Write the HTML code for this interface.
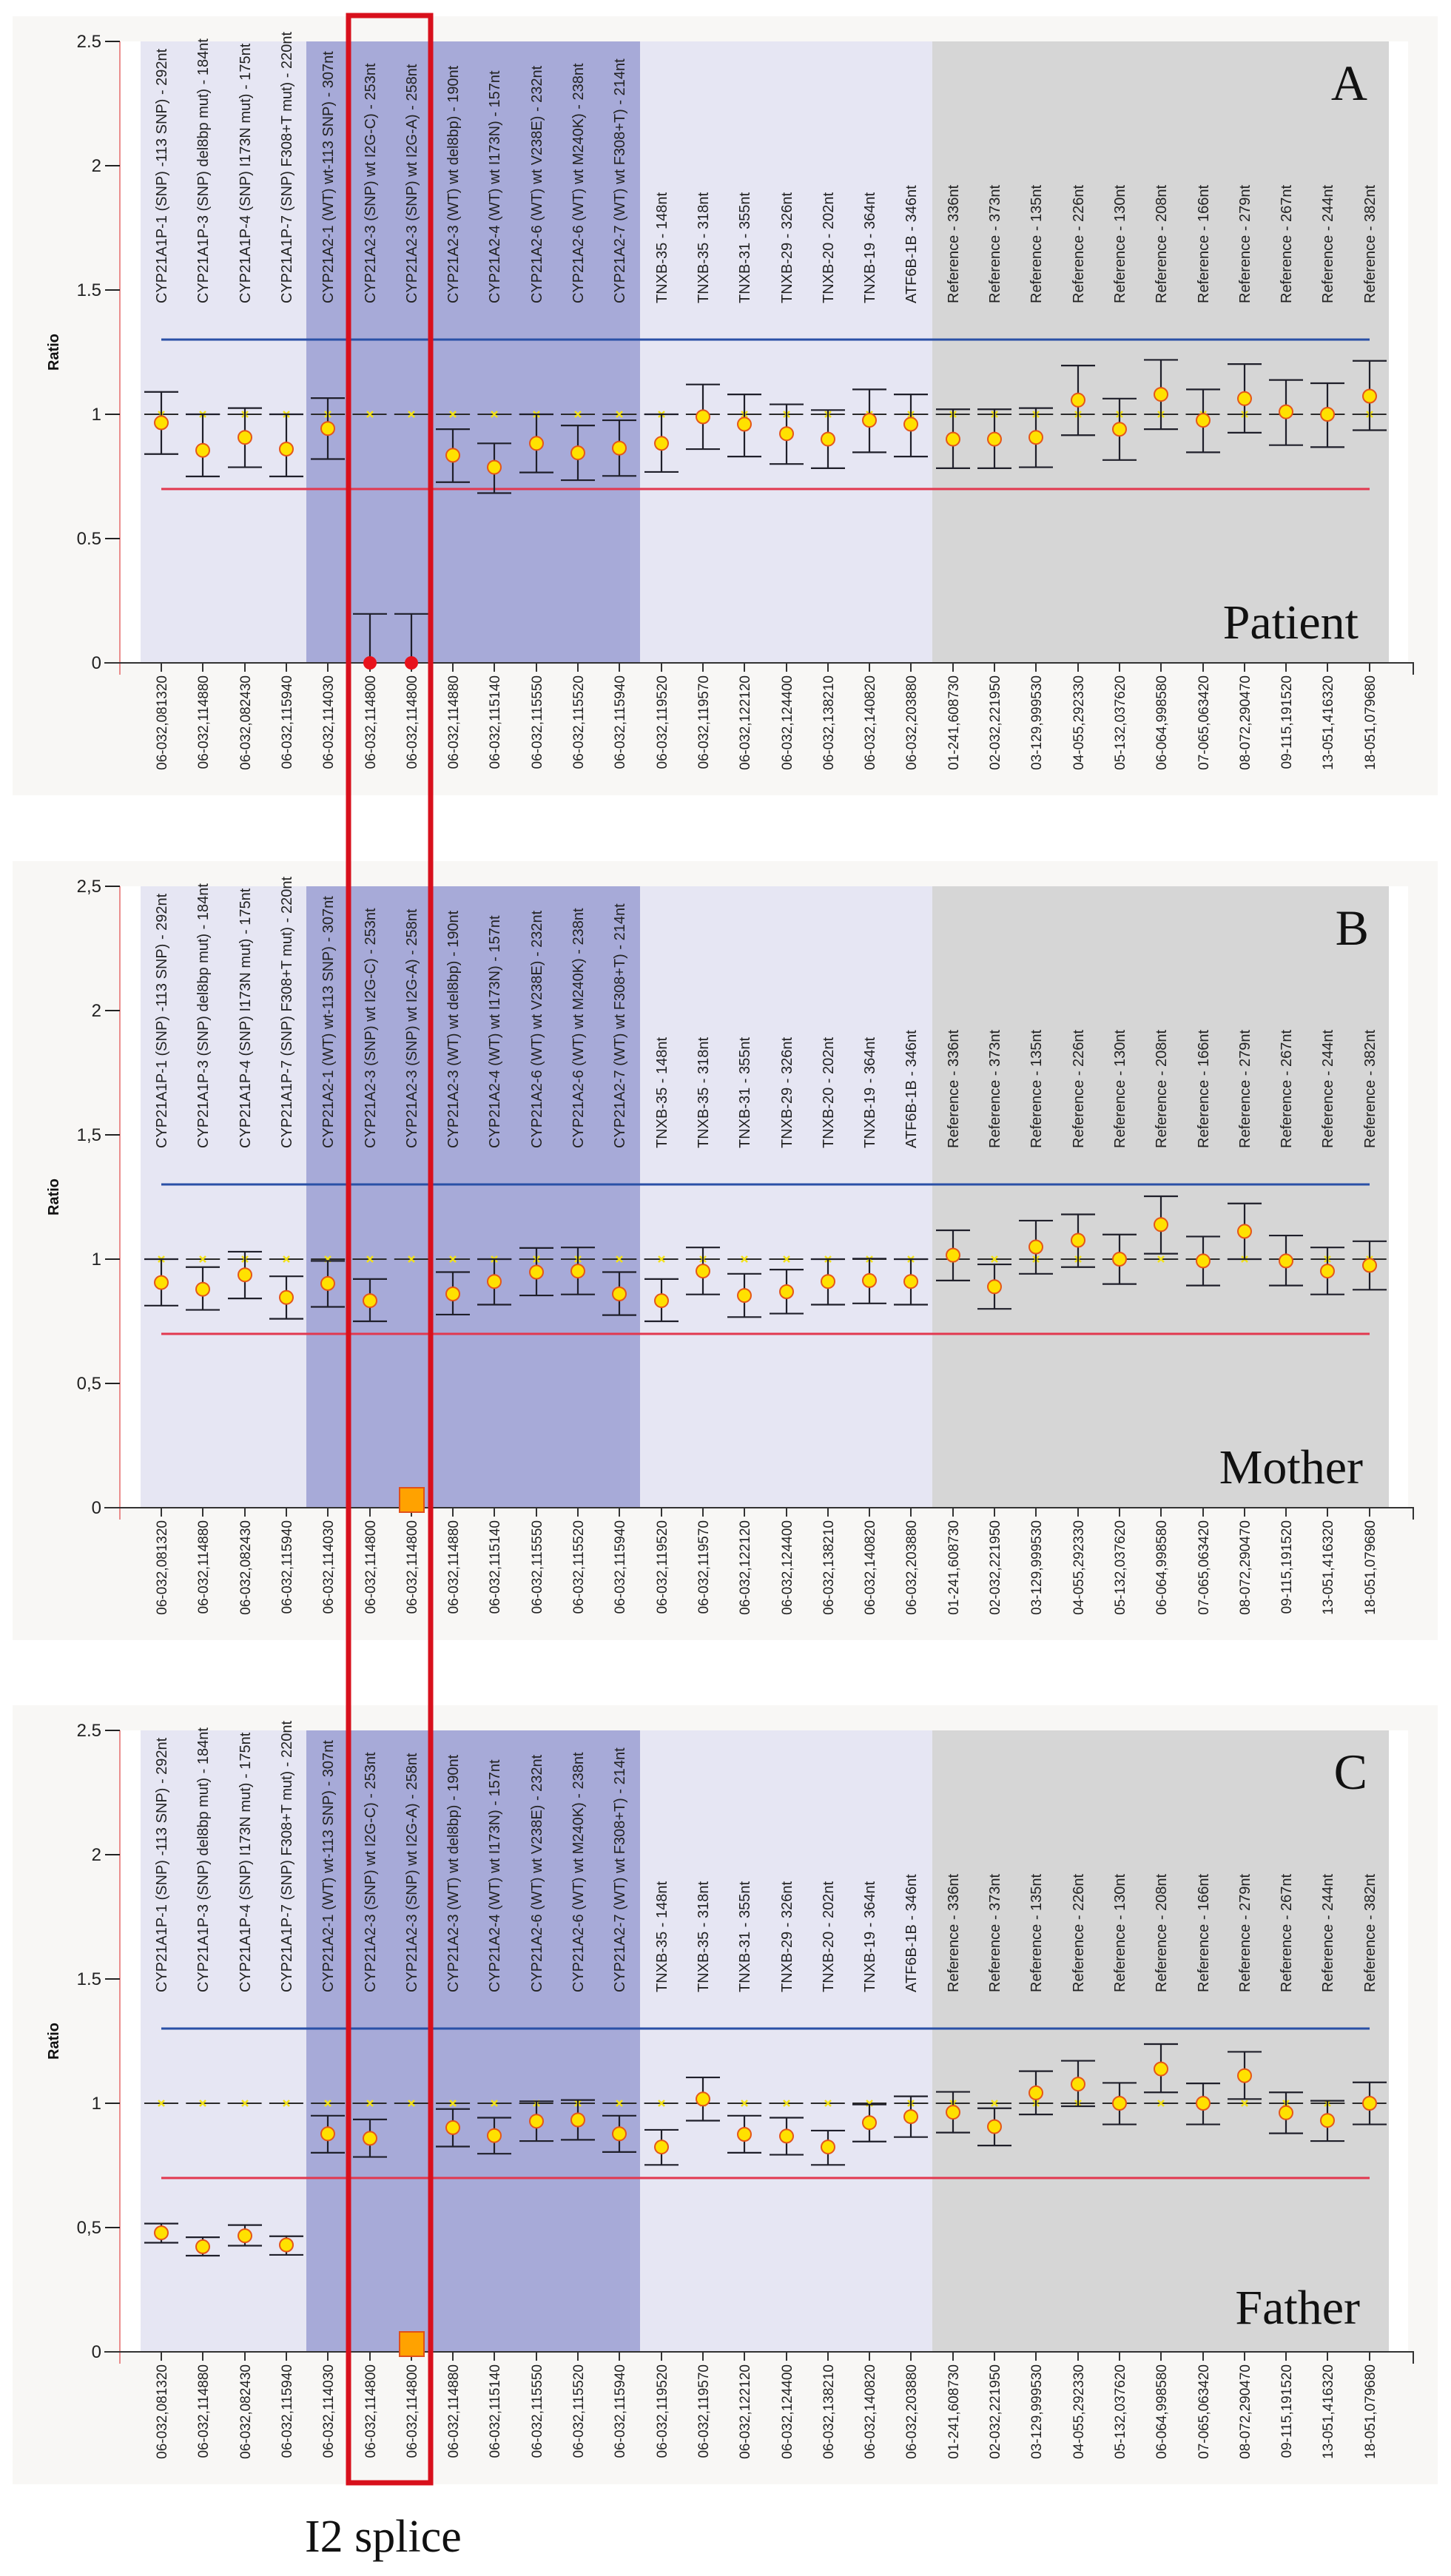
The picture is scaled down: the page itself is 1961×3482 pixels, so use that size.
<!DOCTYPE html>
<html><head><meta charset="utf-8"><style>
html,body{margin:0;padding:0;background:#fff;width:1961px;height:3482px;overflow:hidden}
svg{display:block}
text{font-family:"Liberation Sans",Arial,sans-serif}
.cl{font-size:20px;fill:#222}
.xl{font-size:19px;fill:#222;text-anchor:end}
.yl{font-size:24px;fill:#222;text-anchor:end}
text.big{font-family:"Liberation Serif",serif;font-size:68px;fill:#111;text-anchor:end}
text.ser{font-family:"Liberation Serif",serif}
.bar{fill:none;stroke:#1f1f2a;stroke-width:2.2;vector-effect:non-scaling-stroke}
.mk circle{fill:#ffe100;stroke:#e4561a;stroke-width:2}
</style></head><body>
<svg width="1961" height="3482" viewBox="0 0 1961 3482" xmlns="http://www.w3.org/2000/svg">
<defs>
<g id="base">
<rect x="17" y="22" width="1926" height="1053" fill="#f8f7f5"/>
<rect x="162" y="56" width="1741" height="840" fill="#fff"/>
<rect x="190" y="56" width="224" height="840" fill="#e6e6f3"/>
<rect x="414" y="56" width="451" height="840" fill="#a7aad8"/>
<rect x="865" y="56" width="395" height="840" fill="#e6e6f3"/>
<rect x="1260" y="56" width="617" height="840" fill="#d6d6d6"/>
<line x1="218" y1="459" x2="1851" y2="459" stroke="#2a50a6" stroke-width="3"/>
<line x1="218" y1="661" x2="1851" y2="661" stroke="#e2384f" stroke-width="3"/>
<line x1="195" y1="560" x2="1882" y2="560" stroke="#2a2a2a" stroke-width="2" stroke-dasharray="46 10.3"/>
<path d="M214 556l8 8m0-8l-8 8M270 556l8 8m0-8l-8 8M327 556l8 8m0-8l-8 8M383 556l8 8m0-8l-8 8M439 556l8 8m0-8l-8 8M496 556l8 8m0-8l-8 8M552 556l8 8m0-8l-8 8M608 556l8 8m0-8l-8 8M664 556l8 8m0-8l-8 8M721 556l8 8m0-8l-8 8M777 556l8 8m0-8l-8 8M833 556l8 8m0-8l-8 8M890 556l8 8m0-8l-8 8M946 556l8 8m0-8l-8 8M1002 556l8 8m0-8l-8 8M1059 556l8 8m0-8l-8 8M1115 556l8 8m0-8l-8 8M1171 556l8 8m0-8l-8 8M1227 556l8 8m0-8l-8 8M1284 556l8 8m0-8l-8 8M1340 556l8 8m0-8l-8 8M1396 556l8 8m0-8l-8 8M1453 556l8 8m0-8l-8 8M1509 556l8 8m0-8l-8 8M1565 556l8 8m0-8l-8 8M1622 556l8 8m0-8l-8 8M1678 556l8 8m0-8l-8 8M1734 556l8 8m0-8l-8 8M1790 556l8 8m0-8l-8 8M1847 556l8 8m0-8l-8 8" stroke="#f2e21a" stroke-width="2.5" fill="none"/>
<line x1="162" y1="56" x2="162" y2="912" stroke="#e04545" stroke-width="1.2"/>
<path d="M142 56h20M142 224h20M142 392h20M142 560h20M142 728h20M142 896h20" stroke="#222" stroke-width="2"/>
<line x1="141" y1="896" x2="1911" y2="896" stroke="#333" stroke-width="2"/>
<path d="M218 896v12M274 896v12M331 896v12M387 896v12M443 896v12M500 896v12M556 896v12M612 896v12M668 896v12M725 896v12M781 896v12M837 896v12M894 896v12M950 896v12M1006 896v12M1063 896v12M1119 896v12M1175 896v12M1231 896v12M1288 896v12M1344 896v12M1400 896v12M1457 896v12M1513 896v12M1569 896v12M1626 896v12M1682 896v12M1738 896v12M1794 896v12M1851 896v12M1910 896v16" stroke="#333" stroke-width="2"/>
</g>
</defs>

<!-- PANEL A -->
<g>
<use href="#base"/>
<g class="yls"><text class="yl" x="137" y="64">2.5</text><text class="yl" x="137" y="232">2</text><text class="yl" x="137" y="400">1.5</text><text class="yl" x="137" y="568">1</text><text class="yl" x="137" y="736">0.5</text><text class="yl" x="137" y="904">0</text></g>
<text transform="translate(79,476) rotate(-90)" text-anchor="middle" font-size="20" font-weight="bold" fill="#111">Ratio</text>
<g class="cl">
<text transform="translate(225,410) rotate(-90)">CYP21A1P-1 (SNP) -113 SNP) - 292nt</text>
<text transform="translate(281,410) rotate(-90)">CYP21A1P-3 (SNP) del8bp mut) - 184nt</text>
<text transform="translate(338,410) rotate(-90)">CYP21A1P-4 (SNP) I173N mut) - 175nt</text>
<text transform="translate(394,410) rotate(-90)">CYP21A1P-7 (SNP) F308+T mut) - 220nt</text>
<text transform="translate(450,410) rotate(-90)">CYP21A2-1 (WT) wt-113 SNP) - 307nt</text>
<text transform="translate(507,410) rotate(-90)">CYP21A2-3 (SNP) wt I2G-C) - 253nt</text>
<text transform="translate(563,410) rotate(-90)">CYP21A2-3 (SNP) wt I2G-A) - 258nt</text>
<text transform="translate(619,410) rotate(-90)">CYP21A2-3 (WT) wt del8bp) - 190nt</text>
<text transform="translate(675,410) rotate(-90)">CYP21A2-4 (WT) wt I173N) - 157nt</text>
<text transform="translate(732,410) rotate(-90)">CYP21A2-6 (WT) wt V238E) - 232nt</text>
<text transform="translate(788,410) rotate(-90)">CYP21A2-6 (WT) wt M240K) - 238nt</text>
<text transform="translate(844,410) rotate(-90)">CYP21A2-7 (WT) wt F308+T) - 214nt</text>
<text transform="translate(901,410) rotate(-90)">TNXB-35 - 148nt</text>
<text transform="translate(957,410) rotate(-90)">TNXB-35 - 318nt</text>
<text transform="translate(1013,410) rotate(-90)">TNXB-31 - 355nt</text>
<text transform="translate(1070,410) rotate(-90)">TNXB-29 - 326nt</text>
<text transform="translate(1126,410) rotate(-90)">TNXB-20 - 202nt</text>
<text transform="translate(1182,410) rotate(-90)">TNXB-19 - 364nt</text>
<text transform="translate(1238,410) rotate(-90)">ATF6B-1B - 346nt</text>
<text transform="translate(1295,410) rotate(-90)">Reference - 336nt</text>
<text transform="translate(1351,410) rotate(-90)">Reference - 373nt</text>
<text transform="translate(1407,410) rotate(-90)">Reference - 135nt</text>
<text transform="translate(1464,410) rotate(-90)">Reference - 226nt</text>
<text transform="translate(1520,410) rotate(-90)">Reference - 130nt</text>
<text transform="translate(1576,410) rotate(-90)">Reference - 208nt</text>
<text transform="translate(1633,410) rotate(-90)">Reference - 166nt</text>
<text transform="translate(1689,410) rotate(-90)">Reference - 279nt</text>
<text transform="translate(1745,410) rotate(-90)">Reference - 267nt</text>
<text transform="translate(1801,410) rotate(-90)">Reference - 244nt</text>
<text transform="translate(1858,410) rotate(-90)">Reference - 382nt</text>
</g>
<g>
<text class="xl" transform="translate(225,913) rotate(-90)">06-032,081320</text>
<text class="xl" transform="translate(281,913) rotate(-90)">06-032,114880</text>
<text class="xl" transform="translate(338,913) rotate(-90)">06-032,082430</text>
<text class="xl" transform="translate(394,913) rotate(-90)">06-032,115940</text>
<text class="xl" transform="translate(450,913) rotate(-90)">06-032,114030</text>
<text class="xl" transform="translate(507,913) rotate(-90)">06-032,114800</text>
<text class="xl" transform="translate(563,913) rotate(-90)">06-032,114800</text>
<text class="xl" transform="translate(619,913) rotate(-90)">06-032,114880</text>
<text class="xl" transform="translate(675,913) rotate(-90)">06-032,115140</text>
<text class="xl" transform="translate(732,913) rotate(-90)">06-032,115550</text>
<text class="xl" transform="translate(788,913) rotate(-90)">06-032,115520</text>
<text class="xl" transform="translate(844,913) rotate(-90)">06-032,115940</text>
<text class="xl" transform="translate(901,913) rotate(-90)">06-032,119520</text>
<text class="xl" transform="translate(957,913) rotate(-90)">06-032,119570</text>
<text class="xl" transform="translate(1013,913) rotate(-90)">06-032,122120</text>
<text class="xl" transform="translate(1070,913) rotate(-90)">06-032,124400</text>
<text class="xl" transform="translate(1126,913) rotate(-90)">06-032,138210</text>
<text class="xl" transform="translate(1182,913) rotate(-90)">06-032,140820</text>
<text class="xl" transform="translate(1238,913) rotate(-90)">06-032,203880</text>
<text class="xl" transform="translate(1295,913) rotate(-90)">01-241,608730</text>
<text class="xl" transform="translate(1351,913) rotate(-90)">02-032,221950</text>
<text class="xl" transform="translate(1407,913) rotate(-90)">03-129,999530</text>
<text class="xl" transform="translate(1464,913) rotate(-90)">04-055,292330</text>
<text class="xl" transform="translate(1520,913) rotate(-90)">05-132,037620</text>
<text class="xl" transform="translate(1576,913) rotate(-90)">06-064,998580</text>
<text class="xl" transform="translate(1633,913) rotate(-90)">07-065,063420</text>
<text class="xl" transform="translate(1689,913) rotate(-90)">08-072,290470</text>
<text class="xl" transform="translate(1745,913) rotate(-90)">09-115,191520</text>
<text class="xl" transform="translate(1801,913) rotate(-90)">13-051,416320</text>
<text class="xl" transform="translate(1858,913) rotate(-90)">18-051,079680</text>
</g>
<text class="big" x="1848" y="135">A</text>
<text class="big" x="1836" y="863" style="font-size:66px">Patient</text>
<g transform="translate(0,896) scale(1,-336)">
<path class="bar" d="M195 1.09h46M218 1.09V0.84M195 0.84h46 M251 1h46M274 1V0.75M251 0.75h46 M308 1.025h46M331 1.025V0.787M308 0.787h46 M364 1h46M387 1V0.75M364 0.75h46 M420 1.065h46M443 1.065V0.82M420 0.82h46 M477 0.197h46M500 0.197V0 M533 0.197h46M556 0.197V0 M589 0.94h46M612 0.94V0.727M589 0.727h46 M645 0.883h46M668 0.883V0.683M645 0.683h46 M702 1h46M725 1V0.766M702 0.766h46 M758 0.955h46M781 0.955V0.735M758 0.735h46 M814 0.976h46M837 0.976V0.752M814 0.752h46 M871 1h46M894 1V0.768M871 0.768h46 M927 1.12h46M950 1.12V0.86M927 0.86h46 M983 1.08h46M1006 1.08V0.83M983 0.83h46 M1040 1.04h46M1063 1.04V0.8M1040 0.8h46 M1096 1.017h46M1119 1.017V0.783M1096 0.783h46 M1152 1.1h46M1175 1.1V0.847M1152 0.847h46 M1208 1.08h46M1231 1.08V0.83M1208 0.83h46 M1265 1.02h46M1288 1.02V0.783M1265 0.783h46 M1321 1.02h46M1344 1.02V0.783M1321 0.783h46 M1377 1.025h46M1400 1.025V0.787M1377 0.787h46 M1434 1.196h46M1457 1.196V0.916M1434 0.916h46 M1490 1.063h46M1513 1.063V0.816M1490 0.816h46 M1546 1.219h46M1569 1.219V0.94M1546 0.94h46 M1603 1.1h46M1626 1.1V0.847M1603 0.847h46 M1659 1.202h46M1682 1.202V0.926M1659 0.926h46 M1715 1.138h46M1738 1.138V0.876M1715 0.876h46 M1771 1.125h46M1794 1.125V0.868M1771 0.868h46 M1828 1.215h46M1851 1.215V0.936M1828 0.936h46"/>
</g>
<g class="mk">
<circle cx="218" cy="571.4" r="9"/><circle cx="274" cy="608.7" r="9"/><circle cx="331" cy="591.2" r="9"/><circle cx="387" cy="607" r="9"/><circle cx="443" cy="579.2" r="9"/>
<circle cx="612" cy="615.4" r="9"/><circle cx="668" cy="631.6" r="9"/><circle cx="725" cy="599.3" r="9"/><circle cx="781" cy="612.1" r="9"/><circle cx="837" cy="605.7" r="9"/>
<circle cx="894" cy="599.3" r="9"/><circle cx="950" cy="563.4" r="9"/><circle cx="1006" cy="573.4" r="9"/><circle cx="1063" cy="586.2" r="9"/><circle cx="1119" cy="593.6" r="9"/><circle cx="1175" cy="568.1" r="9"/><circle cx="1231" cy="573.4" r="9"/>
<circle cx="1288" cy="593.6" r="9"/><circle cx="1344" cy="593.6" r="9"/><circle cx="1400" cy="591.2" r="9"/><circle cx="1457" cy="540.8" r="9"/><circle cx="1513" cy="580.2" r="9"/><circle cx="1569" cy="533.1" r="9"/><circle cx="1626" cy="568.1" r="9"/><circle cx="1682" cy="538.8" r="9"/><circle cx="1738" cy="556.6" r="9"/><circle cx="1794" cy="560" r="9"/><circle cx="1851" cy="535.5" r="9"/>
</g>
<circle cx="500" cy="896" r="9" fill="#e8121c"/><circle cx="556" cy="896" r="9" fill="#e8121c"/>
</g>

<!-- PANEL B -->
<g transform="translate(0,1142)">
<use href="#base"/>
<text class="yl" x="137" y="64">2,5</text><text class="yl" x="137" y="232">2</text><text class="yl" x="137" y="400">1,5</text><text class="yl" x="137" y="568">1</text><text class="yl" x="137" y="736">0,5</text><text class="yl" x="137" y="904">0</text>
<text transform="translate(79,476) rotate(-90)" text-anchor="middle" font-size="20" font-weight="bold" fill="#111">Ratio</text>
<g class="cl">
<text transform="translate(225,410) rotate(-90)">CYP21A1P-1 (SNP) -113 SNP) - 292nt</text>
<text transform="translate(281,410) rotate(-90)">CYP21A1P-3 (SNP) del8bp mut) - 184nt</text>
<text transform="translate(338,410) rotate(-90)">CYP21A1P-4 (SNP) I173N mut) - 175nt</text>
<text transform="translate(394,410) rotate(-90)">CYP21A1P-7 (SNP) F308+T mut) - 220nt</text>
<text transform="translate(450,410) rotate(-90)">CYP21A2-1 (WT) wt-113 SNP) - 307nt</text>
<text transform="translate(507,410) rotate(-90)">CYP21A2-3 (SNP) wt I2G-C) - 253nt</text>
<text transform="translate(563,410) rotate(-90)">CYP21A2-3 (SNP) wt I2G-A) - 258nt</text>
<text transform="translate(619,410) rotate(-90)">CYP21A2-3 (WT) wt del8bp) - 190nt</text>
<text transform="translate(675,410) rotate(-90)">CYP21A2-4 (WT) wt I173N) - 157nt</text>
<text transform="translate(732,410) rotate(-90)">CYP21A2-6 (WT) wt V238E) - 232nt</text>
<text transform="translate(788,410) rotate(-90)">CYP21A2-6 (WT) wt M240K) - 238nt</text>
<text transform="translate(844,410) rotate(-90)">CYP21A2-7 (WT) wt F308+T) - 214nt</text>
<text transform="translate(901,410) rotate(-90)">TNXB-35 - 148nt</text>
<text transform="translate(957,410) rotate(-90)">TNXB-35 - 318nt</text>
<text transform="translate(1013,410) rotate(-90)">TNXB-31 - 355nt</text>
<text transform="translate(1070,410) rotate(-90)">TNXB-29 - 326nt</text>
<text transform="translate(1126,410) rotate(-90)">TNXB-20 - 202nt</text>
<text transform="translate(1182,410) rotate(-90)">TNXB-19 - 364nt</text>
<text transform="translate(1238,410) rotate(-90)">ATF6B-1B - 346nt</text>
<text transform="translate(1295,410) rotate(-90)">Reference - 336nt</text>
<text transform="translate(1351,410) rotate(-90)">Reference - 373nt</text>
<text transform="translate(1407,410) rotate(-90)">Reference - 135nt</text>
<text transform="translate(1464,410) rotate(-90)">Reference - 226nt</text>
<text transform="translate(1520,410) rotate(-90)">Reference - 130nt</text>
<text transform="translate(1576,410) rotate(-90)">Reference - 208nt</text>
<text transform="translate(1633,410) rotate(-90)">Reference - 166nt</text>
<text transform="translate(1689,410) rotate(-90)">Reference - 279nt</text>
<text transform="translate(1745,410) rotate(-90)">Reference - 267nt</text>
<text transform="translate(1801,410) rotate(-90)">Reference - 244nt</text>
<text transform="translate(1858,410) rotate(-90)">Reference - 382nt</text>
</g>
<g>
<text class="xl" transform="translate(225,913) rotate(-90)">06-032,081320</text>
<text class="xl" transform="translate(281,913) rotate(-90)">06-032,114880</text>
<text class="xl" transform="translate(338,913) rotate(-90)">06-032,082430</text>
<text class="xl" transform="translate(394,913) rotate(-90)">06-032,115940</text>
<text class="xl" transform="translate(450,913) rotate(-90)">06-032,114030</text>
<text class="xl" transform="translate(507,913) rotate(-90)">06-032,114800</text>
<text class="xl" transform="translate(563,913) rotate(-90)">06-032,114800</text>
<text class="xl" transform="translate(619,913) rotate(-90)">06-032,114880</text>
<text class="xl" transform="translate(675,913) rotate(-90)">06-032,115140</text>
<text class="xl" transform="translate(732,913) rotate(-90)">06-032,115550</text>
<text class="xl" transform="translate(788,913) rotate(-90)">06-032,115520</text>
<text class="xl" transform="translate(844,913) rotate(-90)">06-032,115940</text>
<text class="xl" transform="translate(901,913) rotate(-90)">06-032,119520</text>
<text class="xl" transform="translate(957,913) rotate(-90)">06-032,119570</text>
<text class="xl" transform="translate(1013,913) rotate(-90)">06-032,122120</text>
<text class="xl" transform="translate(1070,913) rotate(-90)">06-032,124400</text>
<text class="xl" transform="translate(1126,913) rotate(-90)">06-032,138210</text>
<text class="xl" transform="translate(1182,913) rotate(-90)">06-032,140820</text>
<text class="xl" transform="translate(1238,913) rotate(-90)">06-032,203880</text>
<text class="xl" transform="translate(1295,913) rotate(-90)">01-241,608730</text>
<text class="xl" transform="translate(1351,913) rotate(-90)">02-032,221950</text>
<text class="xl" transform="translate(1407,913) rotate(-90)">03-129,999530</text>
<text class="xl" transform="translate(1464,913) rotate(-90)">04-055,292330</text>
<text class="xl" transform="translate(1520,913) rotate(-90)">05-132,037620</text>
<text class="xl" transform="translate(1576,913) rotate(-90)">06-064,998580</text>
<text class="xl" transform="translate(1633,913) rotate(-90)">07-065,063420</text>
<text class="xl" transform="translate(1689,913) rotate(-90)">08-072,290470</text>
<text class="xl" transform="translate(1745,913) rotate(-90)">09-115,191520</text>
<text class="xl" transform="translate(1801,913) rotate(-90)">13-051,416320</text>
<text class="xl" transform="translate(1858,913) rotate(-90)">18-051,079680</text>
</g>
<text class="big" x="1850" y="135">B</text>
<text class="big" x="1842" y="863" style="font-size:66px">Mother</text>
<g transform="translate(0,896) scale(1,-336)">
<path class="bar" d="M195 1h46M218 1V0.813M195 0.813h46 M251 0.968h46M274 0.968V0.796M251 0.796h46 M308 1.03h46M331 1.03V0.842M308 0.842h46 M364 0.931h46M387 0.931V0.76M364 0.76h46 M420 0.993h46M443 0.993V0.808M420 0.808h46 M477 0.92h46M500 0.92V0.75M477 0.75h46 M589 0.948h46M612 0.948V0.777M589 0.777h46 M645 1h46M668 1V0.817M645 0.817h46 M702 1.045h46M725 1.045V0.854M702 0.854h46 M758 1.047h46M781 1.047V0.858M758 0.858h46 M814 0.948h46M837 0.948V0.775M814 0.775h46 M871 0.92h46M894 0.92V0.75M871 0.75h46 M927 1.047h46M950 1.047V0.858M927 0.858h46 M983 0.941h46M1006 0.941V0.767M983 0.767h46 M1040 0.958h46M1063 0.958V0.781M1040 0.781h46 M1096 1h46M1119 1V0.817M1096 0.817h46 M1152 1.002h46M1175 1.002V0.822M1152 0.822h46 M1208 1h46M1231 1V0.817M1208 0.817h46 M1265 1.116h46M1288 1.116V0.914M1265 0.914h46 M1321 0.979h46M1344 0.979V0.8M1321 0.8h46 M1377 1.155h46M1400 1.155V0.941M1377 0.941h46 M1434 1.18h46M1457 1.18V0.968M1434 0.968h46 M1490 1.099h46M1513 1.099V0.9M1490 0.9h46 M1546 1.253h46M1569 1.253V1.022M1546 1.022h46 M1603 1.091h46M1626 1.091V0.894M1603 0.894h46 M1659 1.224h46M1682 1.224V1M1659 1h46 M1715 1.095h46M1738 1.095V0.894M1715 0.894h46 M1771 1.047h46M1794 1.047V0.858M1771 0.858h46 M1828 1.072h46M1851 1.072V0.877M1828 0.877h46"/>
</g>
<g class="mk">
<circle cx="218" cy="591.6" r="9"/><circle cx="274" cy="600.7" r="9"/><circle cx="331" cy="581.2" r="9"/><circle cx="387" cy="611.7" r="9"/><circle cx="443" cy="592.9" r="9"/><circle cx="500" cy="616.1" r="9"/>
<circle cx="612" cy="607" r="9"/><circle cx="668" cy="590.2" r="9"/><circle cx="725" cy="577.5" r="9"/><circle cx="781" cy="576.1" r="9"/><circle cx="837" cy="607" r="9"/>
<circle cx="894" cy="616.1" r="9"/><circle cx="950" cy="576.1" r="9"/><circle cx="1006" cy="609.1" r="9"/><circle cx="1063" cy="604" r="9"/><circle cx="1119" cy="590.2" r="9"/><circle cx="1175" cy="588.9" r="9"/><circle cx="1231" cy="590.2" r="9"/>
<circle cx="1288" cy="554.6" r="9"/><circle cx="1344" cy="597.3" r="9"/><circle cx="1400" cy="543.5" r="9"/><circle cx="1457" cy="534.5" r="9"/><circle cx="1513" cy="560" r="9"/><circle cx="1569" cy="513.3" r="9"/><circle cx="1626" cy="562.4" r="9"/><circle cx="1682" cy="522.4" r="9"/><circle cx="1738" cy="562.4" r="9"/><circle cx="1794" cy="576.1" r="9"/><circle cx="1851" cy="568.4" r="9"/>
</g>
<rect x="540" y="869" width="33" height="33" fill="#ffa200" stroke="#e0501a" stroke-width="2"/>
</g>

<!-- PANEL C -->
<g transform="translate(0,2283)">
<use href="#base"/>
<text class="yl" x="137" y="64">2.5</text><text class="yl" x="137" y="232">2</text><text class="yl" x="137" y="400">1.5</text><text class="yl" x="137" y="568">1</text><text class="yl" x="137" y="736">0,5</text><text class="yl" x="137" y="904">0</text>
<text transform="translate(79,476) rotate(-90)" text-anchor="middle" font-size="20" font-weight="bold" fill="#111">Ratio</text>
<g class="cl">
<text transform="translate(225,410) rotate(-90)">CYP21A1P-1 (SNP) -113 SNP) - 292nt</text>
<text transform="translate(281,410) rotate(-90)">CYP21A1P-3 (SNP) del8bp mut) - 184nt</text>
<text transform="translate(338,410) rotate(-90)">CYP21A1P-4 (SNP) I173N mut) - 175nt</text>
<text transform="translate(394,410) rotate(-90)">CYP21A1P-7 (SNP) F308+T mut) - 220nt</text>
<text transform="translate(450,410) rotate(-90)">CYP21A2-1 (WT) wt-113 SNP) - 307nt</text>
<text transform="translate(507,410) rotate(-90)">CYP21A2-3 (SNP) wt I2G-C) - 253nt</text>
<text transform="translate(563,410) rotate(-90)">CYP21A2-3 (SNP) wt I2G-A) - 258nt</text>
<text transform="translate(619,410) rotate(-90)">CYP21A2-3 (WT) wt del8bp) - 190nt</text>
<text transform="translate(675,410) rotate(-90)">CYP21A2-4 (WT) wt I173N) - 157nt</text>
<text transform="translate(732,410) rotate(-90)">CYP21A2-6 (WT) wt V238E) - 232nt</text>
<text transform="translate(788,410) rotate(-90)">CYP21A2-6 (WT) wt M240K) - 238nt</text>
<text transform="translate(844,410) rotate(-90)">CYP21A2-7 (WT) wt F308+T) - 214nt</text>
<text transform="translate(901,410) rotate(-90)">TNXB-35 - 148nt</text>
<text transform="translate(957,410) rotate(-90)">TNXB-35 - 318nt</text>
<text transform="translate(1013,410) rotate(-90)">TNXB-31 - 355nt</text>
<text transform="translate(1070,410) rotate(-90)">TNXB-29 - 326nt</text>
<text transform="translate(1126,410) rotate(-90)">TNXB-20 - 202nt</text>
<text transform="translate(1182,410) rotate(-90)">TNXB-19 - 364nt</text>
<text transform="translate(1238,410) rotate(-90)">ATF6B-1B - 346nt</text>
<text transform="translate(1295,410) rotate(-90)">Reference - 336nt</text>
<text transform="translate(1351,410) rotate(-90)">Reference - 373nt</text>
<text transform="translate(1407,410) rotate(-90)">Reference - 135nt</text>
<text transform="translate(1464,410) rotate(-90)">Reference - 226nt</text>
<text transform="translate(1520,410) rotate(-90)">Reference - 130nt</text>
<text transform="translate(1576,410) rotate(-90)">Reference - 208nt</text>
<text transform="translate(1633,410) rotate(-90)">Reference - 166nt</text>
<text transform="translate(1689,410) rotate(-90)">Reference - 279nt</text>
<text transform="translate(1745,410) rotate(-90)">Reference - 267nt</text>
<text transform="translate(1801,410) rotate(-90)">Reference - 244nt</text>
<text transform="translate(1858,410) rotate(-90)">Reference - 382nt</text>
</g>
<g>
<text class="xl" transform="translate(225,913) rotate(-90)">06-032,081320</text>
<text class="xl" transform="translate(281,913) rotate(-90)">06-032,114880</text>
<text class="xl" transform="translate(338,913) rotate(-90)">06-032,082430</text>
<text class="xl" transform="translate(394,913) rotate(-90)">06-032,115940</text>
<text class="xl" transform="translate(450,913) rotate(-90)">06-032,114030</text>
<text class="xl" transform="translate(507,913) rotate(-90)">06-032,114800</text>
<text class="xl" transform="translate(563,913) rotate(-90)">06-032,114800</text>
<text class="xl" transform="translate(619,913) rotate(-90)">06-032,114880</text>
<text class="xl" transform="translate(675,913) rotate(-90)">06-032,115140</text>
<text class="xl" transform="translate(732,913) rotate(-90)">06-032,115550</text>
<text class="xl" transform="translate(788,913) rotate(-90)">06-032,115520</text>
<text class="xl" transform="translate(844,913) rotate(-90)">06-032,115940</text>
<text class="xl" transform="translate(901,913) rotate(-90)">06-032,119520</text>
<text class="xl" transform="translate(957,913) rotate(-90)">06-032,119570</text>
<text class="xl" transform="translate(1013,913) rotate(-90)">06-032,122120</text>
<text class="xl" transform="translate(1070,913) rotate(-90)">06-032,124400</text>
<text class="xl" transform="translate(1126,913) rotate(-90)">06-032,138210</text>
<text class="xl" transform="translate(1182,913) rotate(-90)">06-032,140820</text>
<text class="xl" transform="translate(1238,913) rotate(-90)">06-032,203880</text>
<text class="xl" transform="translate(1295,913) rotate(-90)">01-241,608730</text>
<text class="xl" transform="translate(1351,913) rotate(-90)">02-032,221950</text>
<text class="xl" transform="translate(1407,913) rotate(-90)">03-129,999530</text>
<text class="xl" transform="translate(1464,913) rotate(-90)">04-055,292330</text>
<text class="xl" transform="translate(1520,913) rotate(-90)">05-132,037620</text>
<text class="xl" transform="translate(1576,913) rotate(-90)">06-064,998580</text>
<text class="xl" transform="translate(1633,913) rotate(-90)">07-065,063420</text>
<text class="xl" transform="translate(1689,913) rotate(-90)">08-072,290470</text>
<text class="xl" transform="translate(1745,913) rotate(-90)">09-115,191520</text>
<text class="xl" transform="translate(1801,913) rotate(-90)">13-051,416320</text>
<text class="xl" transform="translate(1858,913) rotate(-90)">18-051,079680</text>
</g>
<text class="big" x="1848" y="135">C</text>
<text class="big" x="1838" y="858" style="font-size:66px">Father</text>
<g transform="translate(0,896) scale(1,-336)">
<path class="bar" d="M195 0.516h46M218 0.516V0.439M195 0.439h46 M251 0.461h46M274 0.461V0.387M251 0.387h46 M308 0.51h46M331 0.51V0.427M308 0.427h46 M364 0.465h46M387 0.465V0.39M364 0.39h46 M420 0.95h46M443 0.95V0.801M420 0.801h46 M477 0.935h46M500 0.935V0.784M477 0.784h46 M589 0.977h46M612 0.977V0.826M589 0.826h46 M645 0.942h46M668 0.942V0.797M645 0.797h46 M702 1.008h46M725 1.008V0.848M702 0.848h46 M758 1.013h46M781 1.013V0.853M758 0.853h46 M814 0.95h46M837 0.95V0.804M814 0.804h46 M871 0.893h46M894 0.893V0.752M871 0.752h46 M927 1.104h46M950 1.104V0.93M927 0.93h46 M983 0.95h46M1006 0.95V0.801M983 0.801h46 M1040 0.942h46M1063 0.942V0.793M1040 0.793h46 M1096 0.89h46M1119 0.89V0.752M1096 0.752h46 M1152 0.995h46M1175 0.995V0.846M1152 0.846h46 M1208 1.028h46M1231 1.028V0.864M1208 0.864h46 M1265 1.046h46M1288 1.046V0.882M1265 0.882h46 M1321 0.98h46M1344 0.98V0.83M1321 0.83h46 M1377 1.129h46M1400 1.129V0.955M1377 0.955h46 M1434 1.171h46M1457 1.171V0.988M1434 0.988h46 M1490 1.082h46M1513 1.082V0.915M1490 0.915h46 M1546 1.238h46M1569 1.238V1.044M1546 1.044h46 M1603 1.08h46M1626 1.08V0.915M1603 0.915h46 M1659 1.207h46M1682 1.207V1.017M1659 1.017h46 M1715 1.044h46M1738 1.044V0.879M1715 0.879h46 M1771 1.01h46M1794 1.01V0.848M1771 0.848h46 M1828 1.084h46M1851 1.084V0.915M1828 0.915h46"/>
</g>
<g class="mk">
<circle cx="218" cy="735.1" r="9"/><circle cx="274" cy="753.9" r="9"/><circle cx="331" cy="739.1" r="9"/><circle cx="387" cy="751.5" r="9"/><circle cx="443" cy="601.3" r="9"/><circle cx="500" cy="607.4" r="9"/>
<circle cx="612" cy="592.9" r="9"/><circle cx="668" cy="603.7" r="9"/><circle cx="725" cy="584.2" r="9"/><circle cx="781" cy="582.5" r="9"/><circle cx="837" cy="601.3" r="9"/>
<circle cx="894" cy="619.1" r="9"/><circle cx="950" cy="554.3" r="9"/><circle cx="1006" cy="602" r="9"/><circle cx="1063" cy="604.4" r="9"/><circle cx="1119" cy="619.1" r="9"/><circle cx="1175" cy="586.2" r="9"/><circle cx="1231" cy="578.1" r="9"/>
<circle cx="1288" cy="572.1" r="9"/><circle cx="1344" cy="591.6" r="9"/><circle cx="1400" cy="545.9" r="9"/><circle cx="1457" cy="534.1" r="9"/><circle cx="1513" cy="560" r="9"/><circle cx="1569" cy="513.6" r="9"/><circle cx="1626" cy="560" r="9"/><circle cx="1682" cy="522.7" r="9"/><circle cx="1738" cy="572.8" r="9"/><circle cx="1794" cy="583.2" r="9"/><circle cx="1851" cy="560" r="9"/>
</g>
<rect x="540" y="869" width="33" height="33" fill="#ffa200" stroke="#e0501a" stroke-width="2"/>
</g>

<!-- red highlight box -->
<rect x="471" y="21" width="111" height="3335" fill="none" stroke="#d8101c" stroke-width="7"/>
<text class="ser" x="412" y="3449" style="font-size:62px;fill:#111">I2 splice</text>
</svg>
</body></html>
